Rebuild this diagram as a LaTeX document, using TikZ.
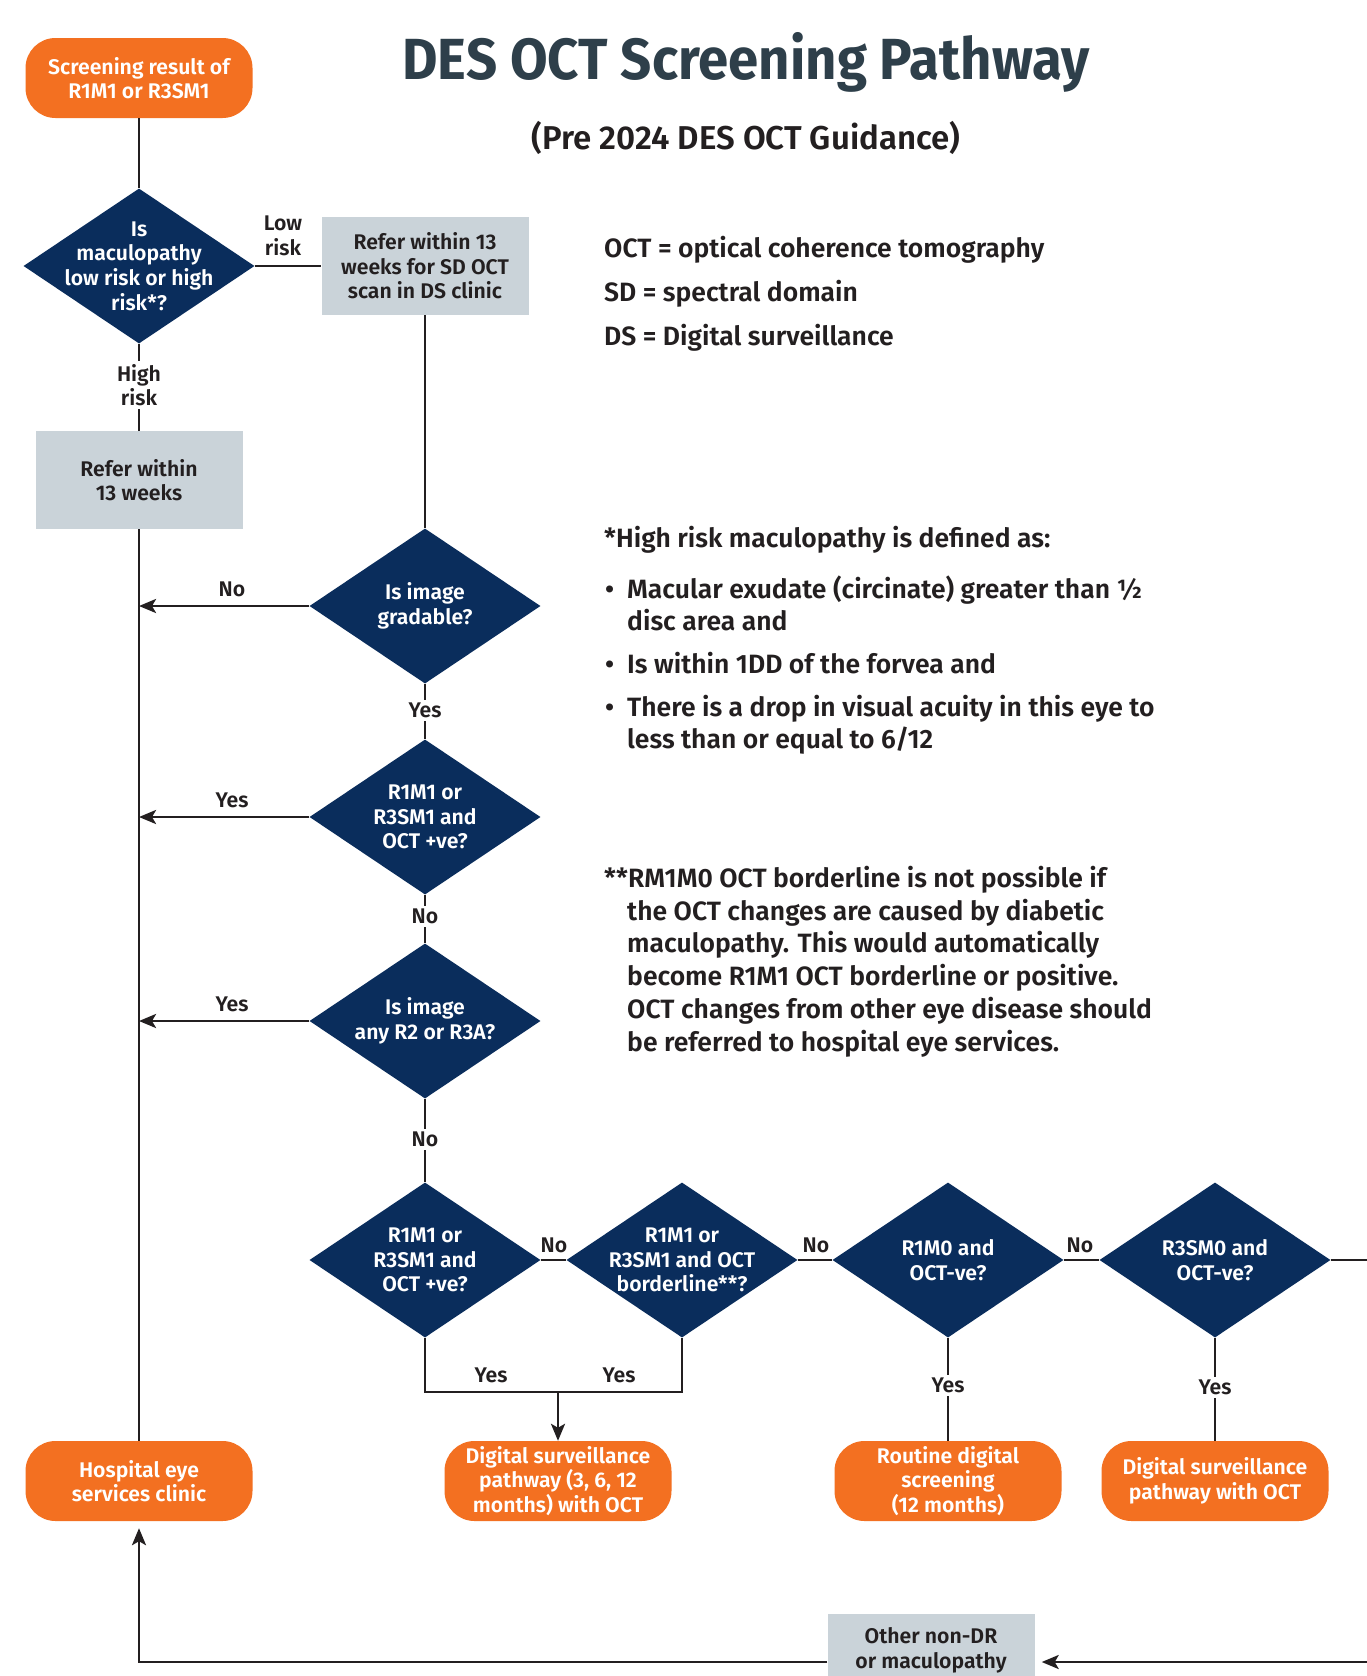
\documentclass[tikz,border=0pt]{standalone}
\usepackage{fontspec}
\setmainfont{Fira Sans}[UprightFont=* SemiBold, BoldFont=* Bold]
\usetikzlibrary{shapes.geometric,arrows.meta}
\definecolor{orng}{HTML}{F37021}
\definecolor{navy}{HTML}{0A2D5C}
\definecolor{greybox}{HTML}{CAD3D9}
\definecolor{titlecol}{HTML}{2E3F4A}
\definecolor{ink}{HTML}{231F20}
\newcommand{\nodefnt}{\fontsize{21.2}{24.6}\selectfont}
\newcommand{\notefnt}{\fontsize{26.5}{32.8}\selectfont}
\begin{document}
\begin{tikzpicture}[x=1pt,y=-1pt,
  term/.style={fill=orng, text=white, rounded corners=30pt, minimum width=227pt, minimum height=80pt, align=center, font=\nodefnt, inner sep=0pt},
  gbox/.style={fill=greybox, text=ink, minimum width=207pt, minimum height=98pt, align=center, font=\nodefnt, inner sep=0pt},
  dec/.style={diamond, fill=navy, minimum width=231pt, minimum height=155pt, inner sep=0pt},
  dtext/.style={text=white, align=center, font=\nodefnt, inner sep=0pt},
  conn/.style={draw=ink, line width=2.7pt},
  arr/.style={conn, -{Stealth[length=17pt,width=14pt,inset=4pt]}},
  lbl/.style={text=ink, align=center, font=\nodefnt, inner sep=1pt},
  lblw/.style={lbl, fill=white, inner sep=3pt},
  note/.style={text=ink, anchor=base west, font=\notefnt, inner sep=0pt}
]
\useasboundingbox (0,0) rectangle (1366,1676);
\fill[white] (0,0) rectangle (1366,1676);

% title
\node[text=titlecol, font=\fontsize{58}{60}\selectfont\bfseries] (title) at (746,62) {\scalebox{0.94}[1]{DES OCT Screening Pathway}};
\node[text=ink, font=\fontsize{33}{36}\selectfont] (subtitle) at (746,138) {(Pre 2024 DES OCT Guidance)};

% nodes
\node[term] (start) at (139,78) {Screening result of\\R1M1 or R3SM1};
\node[dec, label={[dtext]center:Is\\maculopathy\\low risk or high\\risk*?}] (d1) at (139,266) {};
\node[gbox] (g1) at (425,266) {Refer within 13\\weeks for SD OCT\\scan in DS clinic};
\node[gbox] (g2) at (139,480) {Refer within\\13 weeks};
\node[dec, label={[dtext]center:Is image\\gradable?}] (d2) at (425,606) {};
\node[dec, label={[dtext]center:R1M1 or\\R3SM1 and\\OCT +ve?}] (d3) at (425,817) {};
\node[dec, label={[dtext]center:Is image\\any R2 or R3A?}] (d4) at (425,1021) {};
\node[dec, label={[dtext]center:R1M1 or\\R3SM1 and\\OCT +ve?}] (d5) at (425,1260) {};
\node[dec, label={[dtext]center:R1M1 or\\R3SM1 and OCT\\borderline**?}] (d6) at (682,1260) {};
\node[dec, label={[dtext]center:R1M0 and\\OCT-ve?}] (d7) at (948,1260) {};
\node[dec, label={[dtext]center:R3SM0 and\\OCT-ve?}] (d8) at (1215,1260) {};
\node[term] (hosp) at (139,1481) {Hospital eye\\services clinic};
\node[term] (dsp) at (558,1481) {Digital surveillance\\pathway (3, 6, 12\\months) with OCT};
\node[term] (rout) at (948,1481) {Routine digital\\screening\\(12 months)};
\node[term] (dso) at (1215,1481) {Digital surveillance\\pathway with OCT};
\node[gbox, minimum height=72pt] (other) at (931,1650) {Other non-DR\\or maculopathy};

\coordinate (mrg) at (558,1392);
\coordinate (rt) at (1400,1260);
\coordinate (bot) at (1000,1662);

% connectors
\draw[conn] (start) -- (d1);
\draw[conn] (d1.east) -- (g1.west);
\draw[conn] (d1.south) -- (g2.north);
\draw[conn] (g2.south) -- (hosp.north);
\draw[conn] (g1.south) -- (d2.north);
\draw[conn] (d2.south) -- (d3.north);
\draw[conn] (d3.south) -- (d4.north);
\draw[conn] (d4.south) -- (d5.north);
\draw[arr] (d2.west) -- (d2.west -| g2.south);
\draw[arr] (d3.west) -- (d3.west -| g2.south);
\draw[arr] (d4.west) -- (d4.west -| g2.south);
\draw[conn] (d5.east) -- (d6.west);
\draw[conn] (d6.east) -- (d7.west);
\draw[conn] (d7.east) -- (d8.west);
\draw[conn] (d5.south) -- (d5.south |- mrg) -- (d6.south |- mrg) -- (d6.south);
\draw[arr] (mrg) -- (dsp.north);
\draw[conn] (d7.south) -- (rout.north);
\draw[conn] (d8.south) -- (dso.north);
\draw[arr, shorten >=7pt] (d8.east) -- (rt) -- (rt |- bot) -- (other.east |- bot);
\draw[arr, shorten >=7pt] (other.west |- bot) -| (hosp.south);

% labels
\node[lbl] (llow) at (283,236) {Low\\risk};
\node[lblw] (lhigh) at (139,385) {High\\risk};
\node[lbl] (ln1) at (232,589) {No};
\node[lblw] (ly1) at (425,710) {Yes};
\node[lbl] (ly2) at (232,800) {Yes};
\node[lblw] (ln2) at (425,916) {No};
\node[lbl] (ly3) at (232,1004) {Yes};
\node[lblw] (ln3) at (425,1139) {No};
\node[lbl] (ln4) at (554,1245) {No};
\node[lbl] (ln5) at (816,1245) {No};
\node[lbl] (ln6) at (1080,1245) {No};
\node[lbl] (ly4) at (491,1375) {Yes};
\node[lbl] (ly5) at (619,1375) {Yes};
\node[lblw] (ly6) at (948,1385) {Yes};
\node[lblw] (ly7) at (1215,1387) {Yes};

% notes
\node[note] (n1) at (604,257) {OCT = optical coherence tomography};
\node[note] (n2) at (604,301) {SD = spectral domain};
\node[note] (n3) at (604,345) {DS = Digital surveillance};
\node[note] (n4) at (604,547) {*High risk maculopathy is defined as:};
\node[note] (b1) at (605,598) {•};
\node[note] (t1) at (627,598) {\vtop{\hbox{Macular exudate (circinate) greater than ½}\hbox{disc area and}}};
\node[note] (b2) at (605,673) {•};
\node[note] (t2) at (627,673) {Is within 1DD of the forvea and};
\node[note] (b3) at (605,716) {•};
\node[note] (t3) at (627,716) {\vtop{\hbox{There is a drop in visual acuity in this eye to}\hbox{less than or equal to 6/12}}};
\node[note] (s1) at (604,887) {**RM1M0 OCT borderline is not possible if};
\node[note] (s2) at (627,920) {\vtop{\hbox{the OCT changes are caused by diabetic}\hbox{maculopathy. This would automatically}\hbox{become R1M1 OCT borderline or positive.}\hbox{OCT changes from other eye disease should}\hbox{be referred to hospital eye services.}}};
\end{tikzpicture}
\end{document}
